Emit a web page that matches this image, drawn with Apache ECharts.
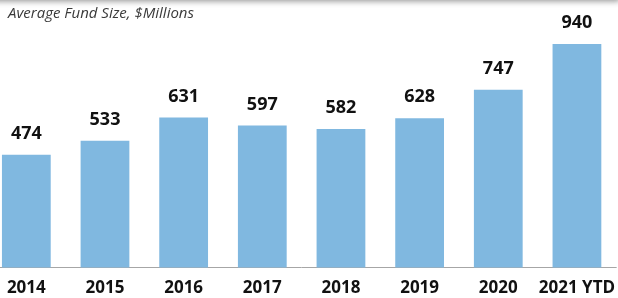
<!DOCTYPE html>
<html>
<head>
    <meta charset="utf-8">
    <title>Average Fund Size</title>
    <script src="https://cdn.jsdelivr.net/npm/echarts@6/dist/echarts.min.js"></script>
    <style>
        html, body { margin: 0; padding: 0; background: #fff; overflow: hidden; }
    </style>
</head>
<body>
    <!-- chart is a little wider than the window and shifted left, the first bar is cut at the edge -->
    <div id="main" style="width: 631px;height:298px;margin-left:-13px;"></div>
    <script type="text/javascript">
        // data
        var years = ['2014', '2015', '2016', '2017', '2018', '2019', '2020', '2021 YTD'];
        var fundSize = [474, 533, 631, 597, 582, 628, 747, 940];

        var myChart = echarts.init(document.getElementById('main'));
        var option = {
            animation: false,
            title: {
                text: 'Average Fund Size, $Millions',
                left: 21,
                top: 6,
                padding: 0,
                textStyle: {
                    fontFamily: 'Open Sans',
                    fontStyle: 'italic',
                    fontWeight: 'normal',
                    fontSize: 15,
                    color: '#3a3a3a'
                }
            },
            graphic: [{
                type: 'rect',
                shape: { x: 0, y: -12, width: 633, height: 12 },
                style: {
                    fill: '#fff',
                    shadowBlur: 6,
                    shadowOffsetY: 1,
                    shadowColor: 'rgba(0,0,0,0.45)'
                },
                z: 100
            }],
            grid: {
                left: 0,
                right: 0,
                top: 29.7,
                bottom: 30.5,
                containLabel: false
            },
            xAxis: {
                type: 'category',
                data: years,
                axisTick: { show: false },
                axisLine: { lineStyle: { color: '#a6a6a6', width: 1 } },
                axisLabel: {
                    interval: 0,
                    margin: 12,
                    fontFamily: 'Open Sans',
                    fontWeight: 'bold',
                    fontSize: 17,
                    color: '#111'
                }
            },
            yAxis: {
                type: 'value',
                min: 0,
                max: 1000,
                show: false,
                splitLine: { show: false }
            },
            series: [{
                type: 'bar',
                data: fundSize,
                barWidth: '62%',
                itemStyle: { color: '#80b8e0' },
                label: {
                    show: true,
                    position: 'top',
                    distance: 12,
                    fontFamily: 'Open Sans',
                    fontWeight: 'bold',
                    fontSize: 18,
                    color: '#111'
                }
            }]
        };
        myChart.setOption(option);
    </script>
</body>
</html>
